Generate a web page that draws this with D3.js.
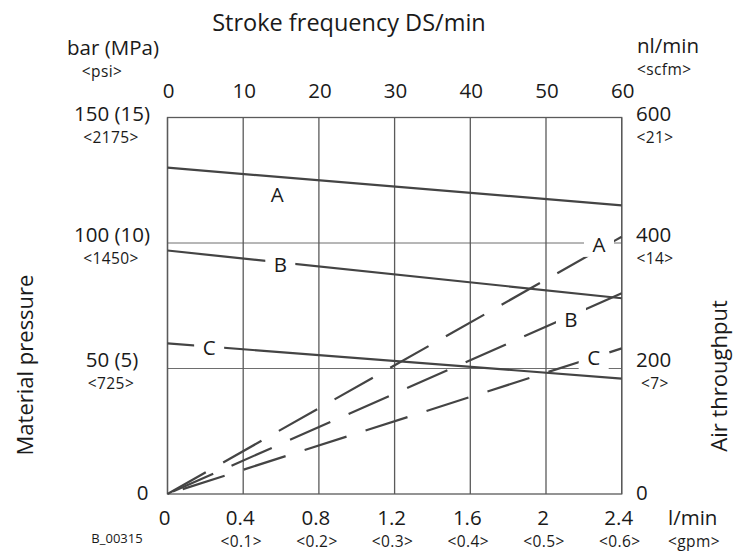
<!DOCTYPE html>
<html>
<head>
<meta charset="utf-8">
<script src="https://cdn.jsdelivr.net/npm/d3@7"></script>
<style>
	body { margin: 0; background: #fff; }
	text { font-family: 'Open Sans', sans-serif; fill: #1a1a1a; }
	.sub { font-size: 15.5px; letter-spacing: 0.4px; }
</style>
</head>
<body>
<div id="chart"></div>
<script>
// stroke frequency (top axis) and flow (bottom axis) share the same x range
const strokeTicks = [0, 10, 20, 30, 40, 50, 60]
const flowTicks = [0, 0.4, 0.8, 1.2, 1.6, 2, 2.4]
const gpmLabels = ['', '<0.1>', '<0.2>', '<0.3>', '<0.4>', '<0.5>', '<0.6>']

const pressureTicks = [0, 50, 100, 150]
const pressureLabels = ['0', '50 (5)', '100 (10)', '150 (15)']
const psiLabels = ['', '<725>', '<1450>', '<2175>']

const airTicks = [0, 200, 400, 600]
const airLabels = ['0', '200', '400', '600']
const scfmLabels = ['', '<7>', '<14>', '<21>']

// pump sizes A, B, C
const seriesNames = ['A', 'B', 'C']
const pressureAt0 = [130, 97, 60]      // bar at 0 DS/min
const pressureAt60 = [115, 78, 46]     // bar at 60 DS/min
const airAt0 = [0, 0, 0]               // nl/min at 0 DS/min
const airAt60 = [410, 320, 232]        // nl/min at 60 DS/min

// where the letters sit (stroke, value)
const pressureLabelStroke = [14.5, 14.9, 5.5]
const pressureLabelValue = [119.3, 91.4, 58.3]
const airLabelStroke = [57, 53.3, 56.3]
const airLabelValue = [397, 277.6, 217]

const W = 735, H = 556
const pLeft = 167.5, pRight = 621.7, pTop = 117.5, pBottom = 494

const svg = d3.select('#chart')
	.append('svg')
	.attr('width', W)
	.attr('height', H)

const x = d3.scaleLinear().domain([0, 60]).range([pLeft, pRight])
const xFlow = d3.scaleLinear().domain([0, 2.4]).range([pLeft, pRight])
const y = d3.scaleLinear().domain([0, 150]).range([pBottom, pTop])
const yAir = d3.scaleLinear().domain([0, 600]).range([pBottom, pTop])

// grid
svg.selectAll('line.hgrid')
	.data([50, 100])
	.enter()
	.append('line')
	.attr('class', 'hgrid')
	.attr('x1', pLeft).attr('x2', pRight)
	.attr('y1', d => y(d)).attr('y2', d => y(d))
	.attr('stroke', '#6e6e6e')
	.attr('stroke-width', 1)

svg.selectAll('line.vgrid')
	.data(strokeTicks)
	.enter()
	.append('line')
	.attr('class', 'vgrid')
	.attr('x1', d => x(d)).attr('x2', d => x(d))
	.attr('y1', pTop).attr('y2', pBottom)
	.attr('stroke', '#5a5a5a')
	.attr('stroke-width', 1.3)

svg.append('rect')
	.attr('x', pLeft).attr('y', pTop)
	.attr('width', pRight - pLeft).attr('height', pBottom - pTop)
	.attr('fill', 'none')
	.attr('stroke', '#5a5a5a')
	.attr('stroke-width', 1.3)

// air throughput (dashed)
const dashOffsets = [0, 58, 48]
seriesNames.forEach((s, i) => {
	svg.append('line')
		.attr('x1', x(0)).attr('y1', yAir(airAt0[i]))
		.attr('x2', x(60)).attr('y2', yAir(airAt60[i]))
		.attr('stroke', '#444')
		.attr('stroke-width', 2.2)
		.attr('stroke-dasharray', '44 20')
		.attr('stroke-dashoffset', dashOffsets[i])
})

// material pressure (solid)
seriesNames.forEach((s, i) => {
	svg.append('line')
		.attr('x1', x(0)).attr('y1', y(pressureAt0[i]))
		.attr('x2', x(60)).attr('y2', y(pressureAt60[i]))
		.attr('stroke', '#444')
		.attr('stroke-width', 2.2)
})

// line letters with white patch behind
function letter(cx, cy, t) {
	svg.append('rect')
		.attr('x', cx - 15).attr('y', cy - 12)
		.attr('width', 30).attr('height', 24)
		.attr('fill', '#fff')
	svg.append('text')
		.attr('x', cx).attr('y', cy)
		.attr('dy', '0.36em')
		.attr('text-anchor', 'middle')
		.style('font-size', '20.5px')
		.text(t)
}
seriesNames.forEach((s, i) => {
	letter(x(pressureLabelStroke[i]), y(pressureLabelValue[i]), s)
	letter(x(airLabelStroke[i]), yAir(airLabelValue[i]), s)
})

// top axis
svg.append('text')
	.attr('x', 349).attr('y', 31)
	.attr('text-anchor', 'middle')
	.style('font-size', '23.5px')
	.text('Stroke frequency DS/min')

svg.selectAll('text.top')
	.data(strokeTicks)
	.enter()
	.append('text')
	.attr('class', 'top')
	.attr('x', d => x(d) + 1)
	.attr('y', 98)
	.attr('text-anchor', 'middle')
	.style('font-size', '20.5px')
	.text(d => d)

// bottom axis
svg.selectAll('text.flow')
	.data(flowTicks)
	.enter()
	.append('text')
	.attr('class', 'flow')
	.attr('x', d => xFlow(d) - 3)
	.attr('y', 525)
	.attr('text-anchor', 'middle')
	.style('font-size', '20.5px')
	.text(d => d)

svg.selectAll('text.gpm')
	.data(flowTicks)
	.enter()
	.append('text')
	.attr('class', 'gpm sub')
	.attr('x', d => xFlow(d) - 2)
	.attr('y', 547)
	.attr('text-anchor', 'middle')
	.text((d, i) => gpmLabels[i])

svg.append('text').attr('x', 668).attr('y', 525).style('font-size', '20.5px').text('l/min')
svg.append('text').attr('x', 668).attr('y', 547).attr('class', 'sub').text('<gpm>')
svg.append('text').attr('x', 117).attr('y', 543).attr('text-anchor', 'middle')
	.style('font-size', '13px').text('B_00315')

// left axis
const shift = v => v === 0 ? 6 : (v === 150 || v === 600 ? 3 : -1.5)

svg.append('text').attr('x', 113).attr('y', 55).attr('text-anchor', 'middle')
	.style('font-size', '20.5px').text('bar (MPa)')
svg.append('text').attr('x', 102).attr('y', 77).attr('text-anchor', 'middle')
	.attr('class', 'sub').text('<psi>')

svg.selectAll('text.left')
	.data(pressureTicks)
	.enter()
	.append('text')
	.attr('class', 'left')
	.attr('x', d => d === 0 ? pLeft - 25 : 112)
	.attr('y', d => y(d) + shift(d))
	.attr('text-anchor', 'middle')
	.style('font-size', '20.5px')
	.text((d, i) => pressureLabels[i])

svg.selectAll('text.psi')
	.data(pressureTicks)
	.enter()
	.append('text')
	.attr('class', 'psi sub')
	.attr('x', 111)
	.attr('y', d => y(d) + shift(d) + 22)
	.attr('text-anchor', 'middle')
	.text((d, i) => psiLabels[i])

// right axis
svg.append('text').attr('x', 637).attr('y', 53)
	.style('font-size', '20.5px').text('nl/min')
svg.append('text').attr('x', 637).attr('y', 75)
	.attr('class', 'sub').text('<scfm>')

svg.selectAll('text.right')
	.data(airTicks)
	.enter()
	.append('text')
	.attr('class', 'right')
	.attr('x', 636)
	.attr('y', d => yAir(d) + shift(d))
	.style('font-size', '20.5px')
	.text((d, i) => airLabels[i])

svg.selectAll('text.scfm')
	.data(airTicks)
	.enter()
	.append('text')
	.attr('class', 'scfm sub')
	.attr('x', 655)
	.attr('y', d => yAir(d) + shift(d) + 22)
	.attr('text-anchor', 'middle')
	.text((d, i) => scfmLabels[i])

// axis titles
svg.append('text')
	.attr('transform', 'translate(33,365) rotate(-90)')
	.attr('text-anchor', 'middle')
	.style('font-size', '22px')
	.text('Material pressure')

svg.append('text')
	.attr('transform', 'translate(727,376) rotate(-90)')
	.attr('text-anchor', 'middle')
	.style('font-size', '22px')
	.text('Air throughput')
</script>
</body>
</html>
